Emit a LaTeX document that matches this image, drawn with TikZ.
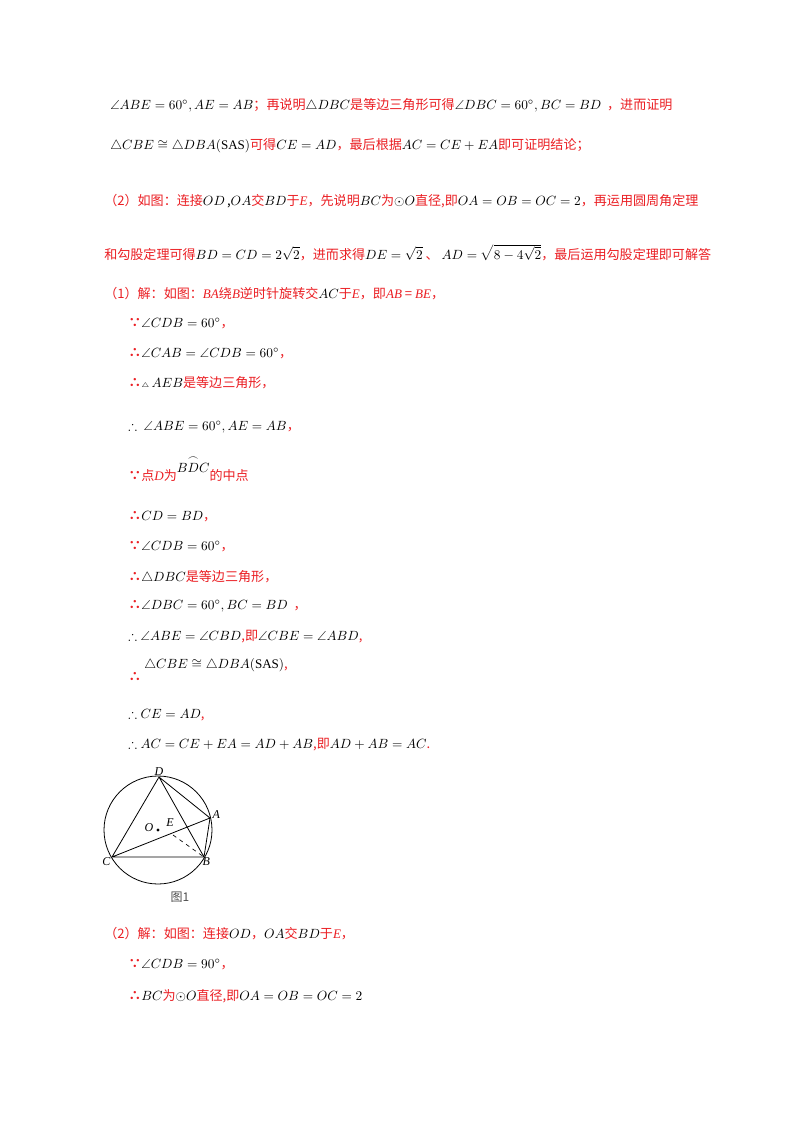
\documentclass[tikz,border=0pt]{standalone}
\usepackage{amsmath,amssymb}
\usepackage{fontspec}
\setmainfont{Noto Sans CJK SC}
\newfontfamily\lat{Liberation Serif}
\definecolor{rd}{RGB}{235,30,35}
\newcommand{\R}[1]{{\color{rd}#1}}
\newcommand{\BC}{\R{\textbf{∵}}}
\newcommand{\TF}{\R{\textbf{∴}}}
\newcommand{\I}[1]{{\lat\itshape #1}}
\newcommand{\sas}{\text{\lat SAS}}
\begin{document}
\begin{tikzpicture}[x=0.75pt,y=-0.75pt,
  ln/.style={anchor=base west,inner sep=0pt,font=\fontsize{9.8}{12}\selectfont},
  lbl/.style={font=\fontsize{9}{10}\selectfont\lat\itshape,inner sep=1pt}]
\useasboundingbox (0,0) rectangle (800,1132);
\fill[white] (0,0) rectangle (800,1132);
\node[ln] (l1) at (110,109) {$\angle ABE=60^\circ,AE=AB$\R{；再说明}$\triangle DBC$\R{是等边三角形可得}$\angle DBC=60^\circ,BC=BD$\ \ \R{，进而证明}};
\node[ln] (l2) at (110,149) {$\triangle CBE\cong\triangle DBA(\sas)$\R{可得}$CE=AD$\R{，最后根据}$AC=CE+EA$\R{即可证明结论；}};
\node[ln] (l3) at (104,205) {\R{（2）如图：连接}$OD$\,,$OA$\R{交}$BD$\R{于}\R{\I{E}，先说明}$BC$\R{为}$\odot O$\R{直径,即}$OA=OB=OC=2$\R{，再运用圆周角定理}};
\node[ln] (l4) at (104,259) {\R{和勾股定理可得}$BD=CD=2\sqrt2$\R{，进而求得}$DE=\sqrt2$\R{\ 、\ }$AD=\sqrt{8-4\sqrt2}$\R{，最后运用勾股定理即可解答}};
\node[ln] (l5) at (104,298) {\R{（1）解：如图：\I{BA}绕\I{B}逆时针旋转交}$AC$\R{于\I{E}，即}\R{\I{AB} = \I{BE}，}};
\node[ln] (l6) at (128,327) {\BC$\angle CDB=60^\circ$\R{，}};
\node[ln] (l7) at (128,357) {\TF$\angle CAB=\angle CDB=60^\circ$\R{，}};
\node[ln] (l8) at (128,387) {\TF{\tiny$\triangle$}$\,AEB$\R{是等边三角形，}};
\node[ln] (l9) at (128,430) {$\therefore\ \angle ABE=60^\circ,AE=AB$\R{，}};
\node[ln] (l10) at (128,480) {\BC\R{点\I{D}为}\raisebox{6pt}{$\overset{\frown}{BDC}$}\R{的中点}};
\node[ln] (l11) at (128,520) {\TF$CD=BD$\R{，}};
\node[ln] (l12) at (128,550) {\BC$\angle CDB=60^\circ$\R{，}};
\node[ln] (l13) at (128,581) {\TF$\triangle DBC$\R{是等边三角形，}};
\node[ln] (l14) at (128,609) {\TF$\angle DBC=60^\circ,BC=BD$\ \ \R{，}};
\node[ln] (l15) at (128,640) {$\therefore\angle ABE=\angle CBD$\R{,即}$\angle CBE=\angle ABD$\R{,}};
\node[ln] (l16a) at (128,681) {\TF};
\node[ln] (l16) at (144,668) {$\triangle CBE\cong\triangle DBA(\sas)$\R{,}};
\node[ln] (l17) at (128,718) {$\therefore CE=AD$\R{,}};
\node[ln] (l18) at (128,748) {$\therefore AC=CE+EA=AD+AB$\R{,即}$AD+AB=AC$\R{.}};
% figure
\coordinate (O) at (158,830);
\coordinate (D) at (159,777);
\coordinate (A) at (210,818);
\coordinate (B) at (204,857);
\coordinate (C) at (112,857);
\coordinate (E) at (173,835);
\draw[line width=0.6pt] (O) circle[radius=54];
\draw[line width=0.6pt] (C)--(D)--(B)--cycle (D)--(A)--(B) (C)--(A);
\draw[dashed,line width=0.5pt] (E)--(B);
\fill (O) circle[radius=1.6];
\node[lbl,anchor=east] (lO) at (155,828) {O};
\node[lbl] (lE) at (170,823) {E};
\node[lbl,anchor=south] (lD) at (D) {D};
\node[lbl,anchor=west] (lA) at (211,815) {A};
\node[lbl,anchor=north west] (lB) at (201,856) {B};
\node[lbl,anchor=north east] (lC) at (112,856) {C};
\node[font=\fontsize{9}{10}\selectfont,text=black!70] (cap) at (180,897) {图1};
\node[ln] (l19) at (104,938) {\R{（2）解：如图：连接}$OD$\R{，}$OA$\R{交}$BD$\R{于}\R{\I{E}，}};
\node[ln] (l20) at (128,968) {\BC$\angle CDB=90^\circ$\R{，}};
\node[ln] (l21) at (128,1000) {\TF$BC$\R{为}$\odot O$\R{直径,即}$OA=OB=OC=2$};
\end{tikzpicture}
\end{document}
